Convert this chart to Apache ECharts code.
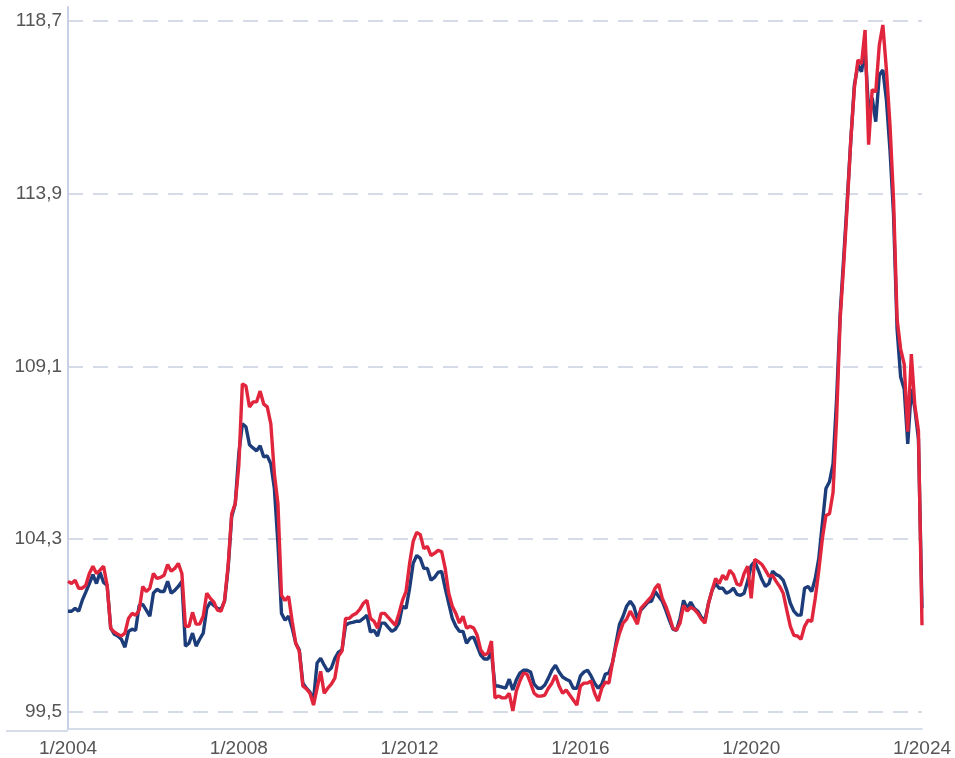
<!DOCTYPE html>
<html>
<head>
<meta charset="utf-8">
<script src="https://cdn.jsdelivr.net/npm/echarts@6/dist/echarts.min.js"></script>
<style>
html,body{margin:0;padding:0;background:#fff;}
#chart{width:955px;height:758px;}
</style>
</head>
<body>
<div id="chart"></div>
<script>
// Monthly categories 1/2004 .. 1/2024
const categories = [];
for (let y = 2004; y <= 2024; y++) {
  for (let m = 1; m <= 12; m++) {
    if (y === 2024 && m > 1) break;
    categories.push(m + '/' + y);
  }
}
const yTicks = [99.5, 104.3, 109.1, 113.9, 118.7];

const blueSeries = [
  102.29, 102.29, 102.37, 102.29, 102.59, 102.82, 103.06, 103.31, 103.06, 103.37, 103.09, 103.01,
  101.82, 101.65, 101.60, 101.51, 101.29, 101.73, 101.79, 101.76, 102.45, 102.48, 102.32, 102.15,
  102.79, 102.90, 102.84, 102.84, 103.12, 102.79, 102.87, 102.98, 103.12, 101.32, 101.40, 101.68,
  101.32, 101.51, 101.68, 102.37, 102.54, 102.45, 102.37, 102.34, 102.57, 103.48, 104.92, 105.28,
  106.67, 107.50, 107.42, 106.92, 106.83, 106.75, 106.89, 106.58, 106.61, 106.39, 105.70, 104.17,
  102.23, 102.04, 102.15, 101.82, 101.40, 101.21, 100.29, 100.15, 100.04, 99.82, 100.85, 100.98,
  100.79, 100.62, 100.71, 100.98, 101.15, 101.21, 101.90, 101.96, 101.98, 102.01, 102.01, 102.09,
  102.18, 101.71, 101.76, 101.60, 101.96, 101.96, 101.84, 101.73, 101.79, 101.96, 102.43, 102.37,
  102.93, 103.62, 103.84, 103.76, 103.48, 103.48, 103.15, 103.23, 103.37, 103.40, 102.93, 102.51,
  102.09, 101.87, 101.73, 101.73, 101.40, 101.54, 101.57, 101.32, 101.07, 100.96, 100.96, 101.15,
  100.21, 100.21, 100.18, 100.15, 100.40, 100.10, 100.38, 100.57, 100.65, 100.65, 100.60, 100.26,
  100.15, 100.15, 100.24, 100.43, 100.65, 100.79, 100.60, 100.46, 100.40, 100.35, 100.15, 100.15,
  100.49, 100.60, 100.65, 100.49, 100.29, 100.15, 100.26, 100.54, 100.57, 100.85, 101.40, 101.93,
  102.15, 102.43, 102.57, 102.43, 102.09, 102.32, 102.43, 102.54, 102.57, 102.84, 102.70, 102.57,
  102.32, 102.04, 101.79, 101.76, 102.09, 102.59, 102.37, 102.54, 102.37, 102.29, 102.12, 102.04,
  102.51, 102.87, 103.06, 102.93, 102.93, 102.79, 102.84, 102.93, 102.76, 102.73, 102.79, 103.12,
  103.56, 103.67, 103.43, 103.17, 102.98, 103.06, 103.40, 103.31, 103.26, 103.15, 102.87, 102.51,
  102.29, 102.18, 102.18, 102.93, 102.98, 102.84, 103.20, 103.76, 104.73, 105.70, 105.89, 106.39,
  108.19, 110.55, 112.13, 113.74, 115.40, 116.93, 117.48, 117.29, 117.90, 116.23, 116.57, 115.90,
  117.20, 117.34, 116.51, 115.12, 113.32, 110.13, 108.80, 108.47, 106.94, 108.47, 107.92, 107.08,
  102.37
];

const redSeries = [
  103.12, 103.06, 103.15, 102.93, 102.93, 103.01, 103.34, 103.54, 103.34, 103.43, 103.54, 103.01,
  101.82, 101.71, 101.65, 101.60, 101.68, 102.09, 102.23, 102.18, 102.32, 102.98, 102.84, 102.93,
  103.34, 103.20, 103.23, 103.29, 103.59, 103.40, 103.48, 103.62, 103.34, 101.87, 101.87, 102.26,
  101.93, 101.93, 102.15, 102.79, 102.65, 102.54, 102.32, 102.29, 102.59, 103.56, 105.00, 105.28,
  106.34, 108.61, 108.55, 107.97, 108.11, 108.11, 108.41, 108.05, 107.97, 107.50, 106.11, 105.28,
  102.73, 102.59, 102.70, 102.01, 101.40, 101.18, 100.21, 100.13, 100.01, 99.68, 100.15, 100.62,
  100.01, 100.15, 100.26, 100.43, 101.04, 101.18, 102.09, 102.09, 102.18, 102.23, 102.34, 102.51,
  102.59, 102.09, 102.01, 101.82, 102.23, 102.23, 102.12, 102.01, 101.90, 102.23, 102.59, 102.84,
  103.62, 104.23, 104.48, 104.42, 104.03, 104.09, 103.84, 103.90, 103.98, 103.95, 103.48, 102.79,
  102.43, 102.23, 101.96, 102.15, 101.82, 101.87, 101.82, 101.62, 101.21, 101.07, 101.12, 101.46,
  99.88, 99.93, 99.88, 99.88, 100.01, 99.52, 100.07, 100.35, 100.57, 100.54, 100.29, 100.01,
  99.93, 99.93, 99.96, 100.15, 100.29, 100.51, 100.21, 100.01, 100.10, 99.96, 99.82, 99.68,
  100.21, 100.29, 100.29, 100.35, 100.01, 99.79, 100.15, 100.32, 100.29, 100.85, 101.32, 101.68,
  101.96, 102.07, 102.29, 102.12, 101.93, 102.37, 102.48, 102.59, 102.70, 102.93, 103.04, 102.65,
  102.43, 102.15, 101.82, 101.76, 101.96, 102.45, 102.29, 102.40, 102.34, 102.23, 102.07, 101.96,
  102.51, 102.87, 103.20, 103.06, 103.29, 103.17, 103.43, 103.31, 103.04, 103.01, 103.34, 103.54,
  102.65, 103.73, 103.67, 103.59, 103.43, 103.26, 103.29, 103.12, 102.98, 102.79, 102.32, 101.87,
  101.62, 101.60, 101.51, 101.87, 102.04, 102.01, 102.65, 103.43, 104.31, 104.95, 105.00, 105.59,
  107.64, 110.41, 111.94, 113.60, 115.40, 116.84, 117.62, 117.51, 118.45, 115.26, 116.79, 116.73,
  118.03, 118.59, 117.34, 115.82, 113.74, 110.41, 109.58, 109.16, 107.28, 109.44, 108.00, 107.31,
  101.90
];

const chart = echarts.init(document.getElementById('chart'), null, {renderer: 'canvas'});
const axisColor = '#c8d1e3';
const labelColor = '#555555';
const fontFamily = 'Liberation Sans, Arial, sans-serif';

chart.setOption({
  animation: false,
  backgroundColor: '#ffffff',
  grid: {left: 68, right: 33, top: 7, bottom: 27, containLabel: false},
  xAxis: {
    type: 'category',
    data: categories,
    boundaryGap: false,
    axisLine: {show: true, lineStyle: {color: axisColor, width: 1.5}},
    axisTick: {show: false},
    axisLabel: {
      interval: 47,
      color: labelColor,
      fontSize: 19,
      fontFamily: fontFamily,
      margin: 10,
      showMaxLabel: true
    },
    splitLine: {show: false}
  },
  yAxis: {
    type: 'value',
    min: 99.015,
    max: 119.09,
    axisLine: {show: true, lineStyle: {color: axisColor, width: 2}},
    axisTick: {show: false, customValues: yTicks},
    axisLabel: {
      customValues: yTicks,
      color: labelColor,
      fontSize: 19,
      fontFamily: fontFamily,
      margin: 6,
      formatter: function (v) { return v.toFixed(1).replace('.', ','); }
    },
    splitLine: {show: true, lineStyle: {color: '#c8d0e0', width: 1.5, type: [15, 10]}}
  },
  graphic: [{
    type: 'line',
    shape: {x1: 6, y1: 731, x2: 68, y2: 731},
    style: {stroke: axisColor, lineWidth: 1.5},
    silent: true
  }],
  series: [
    {
      name: 'blue',
      type: 'line',
      data: blueSeries,
      showSymbol: false,
      symbol: 'none',
      lineStyle: {color: '#1d3c7a', width: 3.4},
      itemStyle: {color: '#1d3c7a'},
      z: 2
    },
    {
      name: 'red',
      type: 'line',
      data: redSeries,
      showSymbol: false,
      symbol: 'none',
      lineStyle: {color: '#e1253c', width: 3.4},
      itemStyle: {color: '#e1253c'},
      z: 3
    }
  ]
});
</script>
</body>
</html>
